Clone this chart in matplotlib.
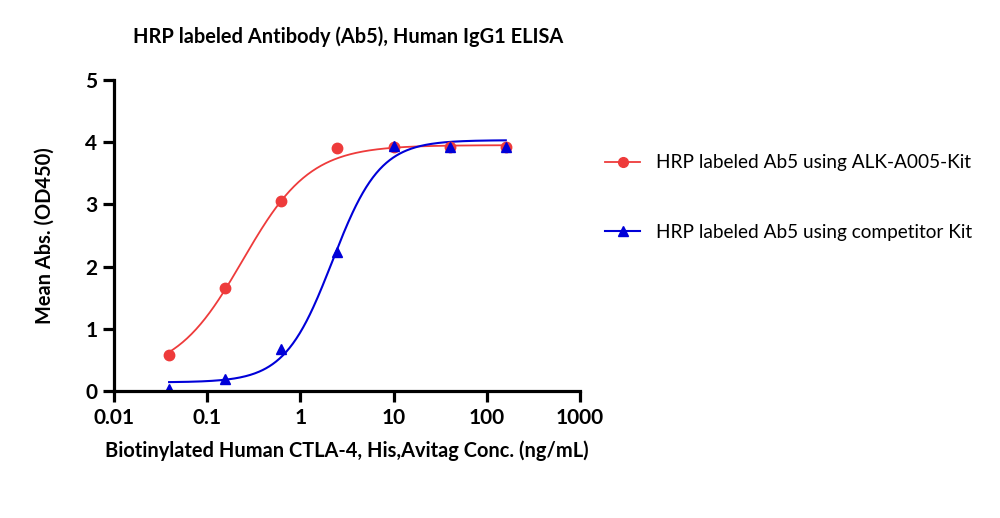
import matplotlib.pyplot as plt
import numpy as np

# data
conc = [0.039, 0.156, 0.625, 2.5, 10, 40, 160]
ab5_alk = [0.58, 1.66, 3.06, 3.91, 3.92, 3.92, 3.92]
ab5_comp = [0.04, 0.20, 0.67, 2.23, 3.93, 3.92, 3.92]

# 4PL fit parameters (bottom, top, ec50, hill) as seen in the curves
fit_alk = [0.25, 3.95, 0.24, 1.2]
fit_comp = [0.14, 4.03, 2.2, 1.7]

label_alk = 'HRP labeled Ab5 using ALK-A005-Kit'
label_comp = 'HRP labeled Ab5 using competitor Kit'

red = '#EE3B3B'
blue = '#0000D8'

def four_pl(x, p):
    bottom, top, ec50, hill = p
    r = (x / ec50) ** hill
    return bottom + (top - bottom) * r / (1 + r)

plt.rcParams['font.family'] = ['Lato', 'DejaVu Sans']

fig = plt.figure(figsize=(10, 5.18), dpi=100)
ax = fig.add_axes([0.114, 0.245, 0.466, 0.601])

xs = np.logspace(np.log10(conc[0]), np.log10(conc[-1]), 300)
ax.plot(xs, four_pl(xs, fit_alk), color=red, lw=1.3)
ax.plot(xs, four_pl(xs, fit_comp), color=blue, lw=1.5)
ax.plot(conc, ab5_alk, 'o', color=red, ms=7.5)
ax.plot(conc, ab5_comp, '^', color=blue, ms=7.5)

ax.set_xscale('log')
ax.set_xlim(0.01, 1000)
ax.set_ylim(0, 5)
ax.set_xticks([0.01, 0.1, 1, 10, 100, 1000])
ax.set_xticklabels(['0.01', '0.1', '1', '10', '100', '1000'])
ax.minorticks_off()
ax.set_yticks([0, 1, 2, 3, 4, 5])

for s in ['top', 'right']:
    ax.spines[s].set_visible(False)
for s in ['left', 'bottom']:
    ax.spines[s].set_linewidth(2.3)
ax.tick_params(width=2.3, length=8, labelsize=15, pad=4)
for t in ax.get_xticklabels() + ax.get_yticklabels():
    t.set_fontweight('bold')

ax.set_xlabel('Biotinylated Human CTLA-4, His,Avitag Conc. (ng/mL)',
              fontsize=14.4, fontweight='bold', labelpad=9)
ax.set_ylabel('Mean Abs. (OD450)', fontsize=14.4, fontweight='bold', labelpad=22)
fig.text(0.133, 0.93, 'HRP labeled Antibody (Ab5), Human IgG1 ELISA',
         fontsize=14.4, fontweight='bold', ha='left', va='center')

h1, = ax.plot([], [], '-o', color=red, lw=1.3, ms=7)
h2, = ax.plot([], [], '-^', color=blue, lw=1.5, ms=7)
fig.legend([h1, h2], [label_alk, label_comp], loc='upper left',
           bbox_to_anchor=(0.588, 0.735), frameon=False, fontsize=13.7,
           handlelength=1.85, labelspacing=2.75, handletextpad=0.8)

fig.savefig('out.png', dpi=100)
